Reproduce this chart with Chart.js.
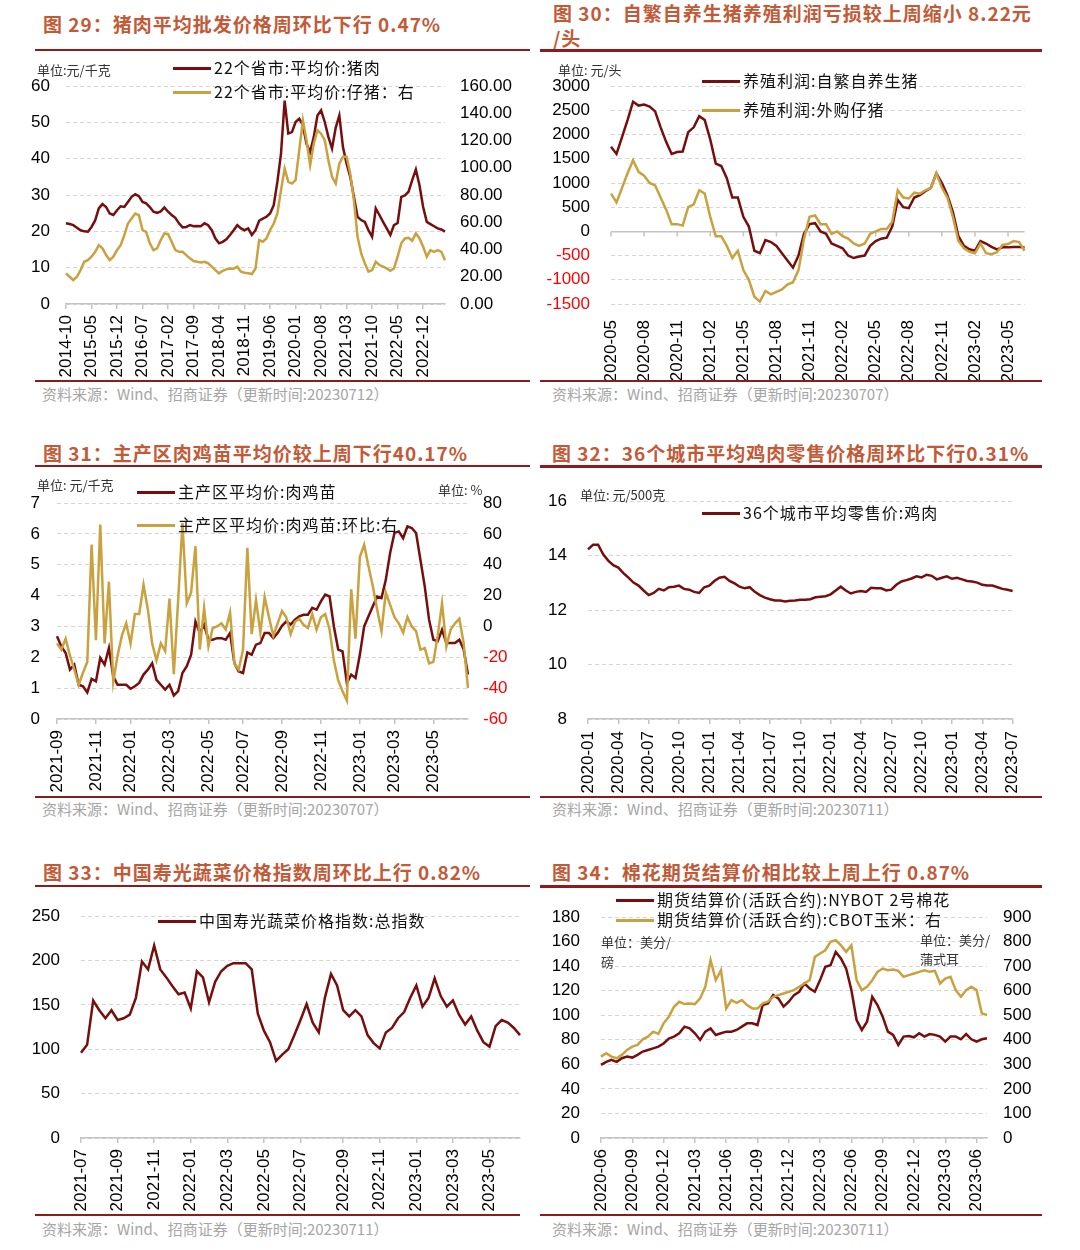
<!DOCTYPE html>
<html>
<head>
<meta charset="utf-8">
<script src="https://cdn.jsdelivr.net/npm/chart.js@4.4.0/dist/chart.umd.min.js"></script>
<style>
body{margin:0;background:#fff;width:1080px;height:1250px;position:relative;overflow:hidden;font-family:'Noto Sans CJK SC',sans-serif;}
.t{position:absolute;font-weight:bold;font-size:19px;color:#c25a38;line-height:25px;white-space:nowrap;letter-spacing:1px;}
.hr{position:absolute;height:2px;background:#8e1b1b;}
.src{position:absolute;font-size:15px;color:#a5a5a5;line-height:20px;white-space:nowrap;}
canvas{position:absolute;}
.lg{position:absolute;font-size:16px;color:#111;line-height:20px;white-space:nowrap;letter-spacing:1px;}
.lg i{display:inline-block;width:38px;height:3px;vertical-align:middle;margin-right:3px;position:relative;top:-1px;}
.u{position:absolute;font-size:13px;color:#333;line-height:16px;white-space:nowrap;}
</style>
</head>
<body>

<!-- titles -->
<div class="t" style="left:43px;top:11px">图 29：猪肉平均批发价格周环比下行 0.47%</div>
<div class="t" style="left:553px;top:0px">图 30：自繁自养生猪养殖利润亏损较上周缩小 8.22元<br>/头</div>
<div class="t" style="left:43px;top:440px">图 31：主产区肉鸡苗平均价较上周下行40.17%</div>
<div class="t" style="left:552px;top:440px">图 32：36个城市平均鸡肉零售价格周环比下行0.31%</div>
<div class="t" style="left:43px;top:859px">图 33：中国寿光蔬菜价格指数周环比上行 0.82%</div>
<div class="t" style="left:552px;top:859px">图 34：棉花期货结算价相比较上周上行 0.87%</div>

<div class="hr" style="left:35px;top:49px;width:495px;height:1.5px"></div>
<div class="hr" style="left:540px;top:49px;width:502px;height:2.5px"></div>
<div class="hr" style="left:35px;top:465px;width:495px;height:1.5px"></div>
<div class="hr" style="left:540px;top:465px;width:502px;height:2.5px"></div>
<div class="hr" style="left:35px;top:885px;width:495px;height:1.5px"></div>
<div class="hr" style="left:540px;top:885px;width:502px;height:2.5px"></div>

<div class="hr" style="left:35px;top:380px;width:495px"></div>
<div class="hr" style="left:540px;top:380px;width:502px"></div>
<div class="hr" style="left:35px;top:796px;width:495px"></div>
<div class="hr" style="left:540px;top:796px;width:502px"></div>
<div class="hr" style="left:35px;top:1214px;width:485px"></div>
<div class="hr" style="left:540px;top:1214px;width:502px"></div>

<div class="src" style="left:42px;top:384px">资料来源：Wind、招商证券（更新时间:20230712）</div>
<div class="src" style="left:552px;top:384px">资料来源：Wind、招商证券（更新时间:20230707）</div>
<div class="src" style="left:42px;top:799px">资料来源：Wind、招商证券（更新时间:20230707）</div>
<div class="src" style="left:552px;top:799px">资料来源：Wind、招商证券（更新时间:20230711）</div>
<div class="src" style="left:42px;top:1219px">资料来源：Wind、招商证券（更新时间:20230711）</div>
<div class="src" style="left:552px;top:1219px">资料来源：Wind、招商证券（更新时间:20230711）</div>

<canvas id="c29" width="500" height="325" style="left:30px;top:55px"></canvas>
<canvas id="c30" width="500" height="325" style="left:540px;top:55px"></canvas>
<canvas id="c31" width="500" height="328" style="left:30px;top:470px"></canvas>
<canvas id="c32" width="500" height="328" style="left:540px;top:470px"></canvas>
<canvas id="c33" width="500" height="332" style="left:30px;top:885px"></canvas>
<canvas id="c34" width="500" height="332" style="left:540px;top:885px"></canvas>

<!-- legends and units -->
<div class="u" style="left:37px;top:62px">单位:元/千克</div>
<div class="lg" style="left:173px;top:57px"><i style="background:#770e0e"></i>22个省市:平均价:猪肉</div>
<div class="lg" style="left:173px;top:81px"><i style="background:#c9a13f"></i>22个省市:平均价:仔猪：右</div>

<div class="u" style="left:558px;top:62px">单位: 元/头</div>
<div class="lg" style="left:702px;top:70px"><i style="background:#770e0e"></i>养殖利润:自繁自养生猪</div>
<div class="lg" style="left:702px;top:99px"><i style="background:#c9a13f"></i>养殖利润:外购仔猪</div>

<div class="u" style="left:37px;top:477px">单位: 元/千克</div>
<div class="u" style="left:438px;top:482px">单位: %</div>
<div class="lg" style="left:137px;top:481px"><i style="background:#770e0e"></i>主产区平均价:肉鸡苗</div>
<div class="lg" style="left:137px;top:514px"><i style="background:#c9a13f"></i>主产区平均价:肉鸡苗:环比:右</div>

<div class="u" style="left:580px;top:487px">单位: 元/500克</div>
<div class="lg" style="left:702px;top:502px"><i style="background:#770e0e"></i>36个城市平均零售价:鸡肉</div>

<div class="lg" style="left:158px;top:910px"><i style="background:#770e0e"></i>中国寿光蔬菜价格指数:总指数</div>

<div class="lg" style="left:616px;top:889px"><i style="background:#770e0e"></i>期货结算价(活跃合约):NYBOT 2号棉花</div>
<div class="lg" style="left:616px;top:909px"><i style="background:#c9a13f"></i>期货结算价(活跃合约):CBOT玉米：右</div>
<div class="u" style="left:601px;top:934px">单位：美分/</div>
<div class="u" style="left:601px;top:954px">磅</div>
<div class="u" style="left:920px;top:932px">单位：美分/</div>
<div class="u" style="left:920px;top:951px">蒲式耳</div>

<script>
// 图29 猪肉 / 仔猪 (月度, 2014-10 起)
const c29Pork = [22.2,22.0,21.7,
  21.0,20.3,20.0,19.9,21.2,23.0,26.3,27.5,26.7,24.9,24.5,25.8,
  26.9,26.7,28.1,29.5,30.2,29.7,28.1,27.7,26.7,25.4,25.1,25.5,
  26.6,25.4,24.5,23.7,22.2,21.1,21.2,21.7,21.4,21.5,21.4,22.2,
  21.7,20.3,18.0,16.7,17.1,17.8,19.0,20.3,21.7,20.8,20.3,20.8,
  19.0,20.3,22.9,23.5,24.0,24.9,27.2,33.6,41.4,56.0,46.9,47.3,
  50.1,51.0,49.2,44.1,41.8,46.0,51.9,53.3,50.1,46.0,42.8,48.5,
  51.9,43.2,38.6,35.0,29.5,24.0,23.1,22.6,20.3,18.5,26.3,24.5,
  22.6,20.8,19.0,21.7,22.3,29.5,29.9,30.9,34.1,37.0,32.7,26.7,
  22.6,22.0,21.4,20.8,20.5,19.9];
const c29Piglet = [22.5,20,17.6,
  20,24.9,31,32.2,34.7,38.3,43.2,40.8,35.9,32.2,34.7,39.6,
  43.2,50.6,59.1,62.8,66.4,65.2,54.2,53,44.5,39.6,40.8,46.9,
  51.8,51.3,45.7,39.6,38.3,38.3,35.9,33.5,31.5,31,30.5,31,
  29.8,27.4,24.9,22.5,24.4,25.4,26.1,25.9,27.4,23.7,23,22.5,
  22,26.1,46.9,45.7,48.1,54.2,59.1,66.4,83.5,99.4,89.6,88.4,
  90.9,112.8,134.8,120.2,101.9,117.7,127.5,125,120.2,105.5,93.3,88.4,
  103,108,108,95.7,76.2,49.3,37.1,29.8,23.7,24.9,31,28.6,
  27.4,26.1,24.4,26.1,34.7,44.5,48.1,48.6,46.4,51.8,48.1,42,
  34.7,39.6,38.3,39.6,38.3,32.2];
const c29Ticks = ['2014-10','2015-05','2015-12','2016-07','2017-02','2017-09','2018-04','2018-11',
  '2019-06','2020-01','2020-08','2021-03','2021-10','2022-05','2022-12'];

// 图30 养殖利润 (半月, 2020-05 起)
const c30SelfBred = [1750,1600,1950,2300,2680,2600,2620,2580,2480,2150,
  1850,1600,1640,1650,2050,2150,2380,2300,1900,1400,
  1350,1100,700,700,300,100,-400,-450,-180,-220,
  -300,-450,-600,-750,-500,-50,150,170,0,-50,
  -250,-300,-350,-500,-550,-520,-500,-300,-200,-150,
  -130,100,650,500,480,700,750,830,900,1200,
  1000,750,400,-100,-300,-370,-400,-200,-250,-320,
  -370,-330,-330,-320,-320,-330];
const c30Purchased = [780,600,900,1200,1470,1230,1150,1000,950,700,
  450,150,150,120,500,560,850,780,300,-100,
  -100,-300,-550,-400,-800,-1000,-1350,-1450,-1230,-1300,
  -1250,-1200,-1100,-1050,-800,-150,300,330,150,150,
  -50,0,-100,-150,-250,-300,-250,-50,0,50,
  50,200,850,700,680,800,780,850,900,1200,
  900,700,300,-200,-350,-420,-450,-250,-450,-470,
  -430,-280,-260,-200,-220,-400];
const c30Ticks = ['2020-05','2020-08','2020-11','2021-02','2021-05','2021-08','2021-11',
  '2022-02','2022-05','2022-08','2022-11','2023-02','2023-05'];

// 图31 肉鸡苗 (周度, 2021-09 起)
const c31Price = [2.68,2.35,2.14,1.6,1.76,1.11,1.06,0.86,1.3,1.22,
  1.98,1.76,2.3,1.38,1.11,1.11,1.11,0.98,1.06,1.17,
  1.44,1.6,1.81,1.27,1.11,0.95,1.11,0.76,0.9,1.49,
  1.71,2.08,3.16,2.79,3.06,2.57,2.57,2.62,2.62,2.57,
  2.79,1.81,1.54,1.49,2.16,2.08,2.41,2.46,2.79,2.79,
  2.62,2.79,3.02,3.16,3.06,3.22,3.33,3.38,3.38,3.6,
  3.54,3.81,4.03,3.97,3.0,2.25,2.19,1.17,1.44,1.33,
  2.08,3.0,3.33,3.65,3.97,3.92,4.51,5.38,6.03,6.08,
  5.86,6.24,6.19,6.03,5.16,4.3,3.22,2.57,2.52,2.89,
  2.46,2.46,2.46,2.57,2.25,1.44];
const c31Change = [-11,-15,-8,-19,-28,-38,-30,-23,53,-9,
  66,-11,29,-36,-19,-6,2,-11,8,8,
  27,11,-11,-22,-11,-16,18,-31,17,67,
  15,22,52,-15,12,-13,-1,0,2,-2,
  9,-24,-28,-15,51,-5,17,-4,19,6,
  -6,2,10,6,-5,3,5,1,-1,8,
  -2,6,8,-2,-22,-35,-42,-48,24,-8,
  45,53,39,26,11,-3,22,14,6,2,
  -4,6,0,-3,-15,-14,-24,-23,-6,15,
  -13,-2,2,5,-11,-40];
const c31Ticks = ['2021-09','2021-11','2022-01','2022-03','2022-05','2022-07','2022-09',
  '2022-11','2023-01','2023-03','2023-05'];

// 图32 鸡肉零售价 (半月, 2020-01 起)
const c32Chicken = [14.23,14.4,14.4,14.05,13.82,13.65,13.56,13.36,13.19,13.01,
  12.9,12.72,12.55,12.63,12.78,12.72,12.84,12.86,12.9,12.78,
  12.75,12.67,12.63,12.84,12.9,13.07,13.19,13.22,13.07,12.98,
  12.86,12.8,12.84,12.67,12.55,12.46,12.4,12.35,12.35,12.32,
  12.34,12.35,12.38,12.38,12.4,12.47,12.49,12.51,12.58,12.72,
  12.86,12.72,12.61,12.67,12.7,12.67,12.82,12.8,12.8,12.72,
  12.75,12.93,13.05,13.1,13.16,13.24,13.2,13.3,13.26,13.13,
  13.19,13.24,13.15,13.19,13.13,13.07,13.05,13.01,12.93,12.9,
  12.9,12.84,12.78,12.75,12.7];
const c32Ticks = ['2020-01','2020-04','2020-07','2020-10','2021-01','2021-04','2021-07','2021-10',
  '2022-01','2022-04','2022-07','2022-10','2023-01','2023-04','2023-07'];

// 图33 寿光蔬菜指数 (每10天, 2021-07 起)
const c33Veg = [96,105,155,144,135,144,133,135,139,158,
  199,190,217,190,181,171,162,164,146,188,
  181,153,176,188,194,197,197,197,190,140,
  121,108,87,94,100,116,133,151,130,119,
  158,185,172,144,137,144,137,116,107,101,
  119,124,135,142,158,172,148,158,180,160,
  148,155,139,128,137,121,108,103,126,133,
  130,124,116];
const c33Ticks = ['2021-07','2021-09','2021-11','2022-01','2022-03','2022-05','2022-07','2022-09',
  '2022-11','2023-01','2023-03','2023-05'];

// 图34 棉花 / 玉米 (半月, 2020-06 起)
const c34Cotton = [59.6,62,63.6,62,65,66.3,65.5,67.7,70.4,71.7,
  73,74.4,77,81,82.6,85.3,90.7,89.3,85.3,79.9,
  86.6,89.3,83.9,85.3,86.6,86.6,88,90.7,93.4,93.4,
  92,108.3,109.6,116.4,113.7,107,111,116.4,119.1,125.9,
  121.8,119.1,128.6,139.4,140.8,151.6,146.2,138,120.5,96.1,
  88,94.7,115,108.3,98.8,86.6,84,75.8,82.6,83.1,
  82,85.3,82.6,84.7,84,82.6,78.5,82.6,82.6,80.4,
  84.7,80.4,78.5,80.4,81.2];
const c34Corn = [331.6,345,331.6,324.8,338.3,358.6,372.2,379,402,412.8,
  433,423.6,466.9,494,534.6,554.9,545.4,548.1,545.4,568.4,
  615.8,724,642.8,683.4,527.8,561.6,550.8,561.6,541.3,527.8,
  527.8,548.1,554.9,575.2,582,588.7,595.5,602.3,615.8,629.3,
  642.8,737.6,751.1,764.6,798.5,805.2,785,757.9,785,642.8,
  602.3,615.8,642.8,676.7,690.2,683.4,686.2,680.7,656.4,663.1,
  669.9,676.7,683.4,676.7,680.7,629.3,649.6,656.4,602.3,575.2,
  602.3,615.8,602.3,507.5,500.7];
const c34Ticks = ['2020-06','2020-09','2020-12','2021-03','2021-06','2021-09','2021-12',
  '2022-03','2022-06','2022-09','2022-12','2023-03','2023-06'];

const FONT = "'Liberation Sans', Arial, sans-serif";
const RED = '#770e0e', GOLD = '#c9a13f';

// date labels for the category axis
function monthLabels(start, n) {
  let [y, m] = start.split('-').map(Number);
  const out = [];
  for (let i = 0; i < n; i++) {
    out.push(y + '-' + String(m).padStart(2, '0'));
    m++; if (m > 12) { m = 1; y++; }
  }
  return out;
}
function halfMonthLabels(start, n) {
  const months = monthLabels(start, Math.ceil(n / 2));
  const out = [];
  for (let i = 0; i < n; i++) out.push(months[i >> 1] + (i % 2 ? '-16' : '-01'));
  return out;
}
function dayStepLabels(start, step, n) {
  const d0 = Date.parse(start + 'T00:00:00Z');
  const out = [];
  for (let i = 0; i < n; i++) out.push(new Date(d0 + i * step * 86400000).toISOString().slice(0, 10));
  return out;
}
function toTime(l) { return Date.parse((l.length === 7 ? l + '-01' : l) + 'T00:00:00Z'); }
// index of the label nearest to the first day of each tick month
function tickIndexes(labels, ticks) {
  return ticks.map(t => {
    const target = toTime(t);
    let best = 0, bd = Infinity;
    labels.forEach((l, i) => { const d = Math.abs(toTime(l) - target); if (d < bd) { bd = d; best = i; } });
    return best;
  });
}

function xScale(labels, ticks, h, showAxis, pad) {
  const idx = tickIndexes(labels, ticks);
  const tickText = new Map(idx.map((v, i) => [v, ticks[i]]));
  return {
    type: 'category', offset: false,
    afterBuildTicks: s => { s.ticks = s.ticks.filter(t => tickText.has(t.value)); },
    afterFit: s => { s.height = h; },
    border: {display: showAxis, color: '#c4c4c4', width: 1.5},
    grid: {display: showAxis, drawOnChartArea: false, drawTicks: true, tickLength: 5, color: '#c4c4c4', lineWidth: 1.5},
    ticks: {autoSkip: false, minRotation: 90, maxRotation: 90, padding: pad, color: '#000',
      font: {family: FONT, size: 17},
      callback: v => tickText.get(v)}
  };
}
function yLeft(min, max, step, w, pad, solidZero) {
  const isZero = c => solidZero && c.tick && c.tick.value === 0;
  return {
    type: 'linear', position: 'left', min, max,
    afterFit: s => { s.width = w; },
    border: {display: false, dash: c => isZero(c) ? [] : [4, 3]},
    grid: {drawTicks: false, color: c => isZero(c) ? '#c4c4c4' : '#d6d6d6', lineWidth: c => isZero(c) ? 1.5 : 1},
    ticks: {stepSize: step, padding: pad, color: c => c.tick.value < 0 ? '#ff0000' : '#000',
      font: {family: FONT, size: 17}, callback: v => String(v)}
  };
}
function yRight(min, max, step, w, pad, decimals) {
  return {
    type: 'linear', position: 'right', min, max,
    afterFit: s => { s.width = w; },
    border: {display: false},
    grid: {drawOnChartArea: false, drawTicks: false},
    ticks: {stepSize: step, padding: pad, color: c => c.tick.value < 0 ? '#ff0000' : '#000',
      font: {family: FONT, size: 17},
      callback: v => decimals ? v.toFixed(decimals) : String(v)}
  };
}
function line(data, color, axis) {
  return {data, borderColor: color, borderWidth: 2.5, pointRadius: 0, fill: false, tension: 0, yAxisID: axis};
}
function opts(top, right, scales) {
  return {
    responsive: false, animation: false,
    layout: {padding: {top, right, left: 0, bottom: 0}},
    plugins: {legend: {display: false}, tooltip: {enabled: false}},
    scales
  };
}

// small tick marks on the zero line (图30)
const zeroTicks = {
  id: 'zeroTicks',
  beforeDatasetsDraw(chart) {
    const x = chart.scales.x, y0 = chart.scales.y.getPixelForValue(0), ctx = chart.ctx;
    ctx.save();
    ctx.strokeStyle = '#c4c4c4'; ctx.lineWidth = 1.5;
    x.ticks.forEach((t, i) => {
      const px = x.getPixelForTick(i);
      ctx.beginPath(); ctx.moveTo(px, y0); ctx.lineTo(px, y0 + 5); ctx.stroke();
    });
    ctx.restore();
  }
};

const l29 = monthLabels('2014-10', c29Pork.length);
new Chart(document.getElementById('c29'), {
  type: 'line',
  data: {labels: l29, datasets: [line(c29Piglet, GOLD, 'y1'), line(c29Pork, RED, 'y')]},
  options: opts(31, 0, {
    x: xScale(l29, c29Ticks, 76, true, 6),
    y: yLeft(0, 60, 10, 36, 16),
    y1: yRight(0, 160, 20, 85, 15, 2)
  })
});

const l30 = halfMonthLabels('2020-05', c30SelfBred.length);
new Chart(document.getElementById('c30'), {
  type: 'line',
  data: {labels: l30, datasets: [line(c30Purchased, GOLD, 'y'), line(c30SelfBred, RED, 'y')]},
  options: opts(28, 14, {
    x: xScale(l30, c30Ticks, 76, false, 11),
    y: yLeft(-1500, 3000, 500, 71, 21, true)
  }),
  plugins: [zeroTicks]
});

const l31 = dayStepLabels('2021-09-01', 7, c31Price.length);
new Chart(document.getElementById('c31'), {
  type: 'line',
  data: {labels: l31, datasets: [line(c31Change, GOLD, 'y1'), line(c31Price, RED, 'y')]},
  options: opts(33, 0, {
    x: xScale(l31, c31Ticks, 79, true, 6),
    y: yLeft(0, 7, 1, 27, 17),
    y1: yRight(-60, 80, 20, 62, 15, 0)
  })
});

const l32 = halfMonthLabels('2020-01', c32Chicken.length);
new Chart(document.getElementById('c32'), {
  type: 'line',
  data: {labels: l32, datasets: [line(c32Chicken, RED, 'y')]},
  options: opts(19, 12, {
    x: xScale(l32, c32Ticks, 79, true, 7),
    y: yLeft(8, 16, 2, 48, 21)
  })
});

const l33 = dayStepLabels('2021-07-01', 10, c33Veg.length);
new Chart(document.getElementById('c33'), {
  type: 'line',
  data: {labels: l33, datasets: [line(c33Veg, RED, 'y')]},
  options: opts(19, 10, {
    x: xScale(l33, c33Ticks, 79, true, 6),
    y: yLeft(0, 250, 50, 51, 21)
  })
});

const l34 = halfMonthLabels('2020-06', c34Cotton.length);
new Chart(document.getElementById('c34'), {
  type: 'line',
  data: {labels: l34, datasets: [line(c34Corn, GOLD, 'y1'), line(c34Cotton, RED, 'y')]},
  options: opts(32, 0, {
    x: xScale(l34, c34Ticks, 79, true, 6),
    y: yLeft(0, 180, 20, 61, 21),
    y1: yRight(0, 900, 100, 53, 16, 0)
  })
});
</script>
</body>
</html>
